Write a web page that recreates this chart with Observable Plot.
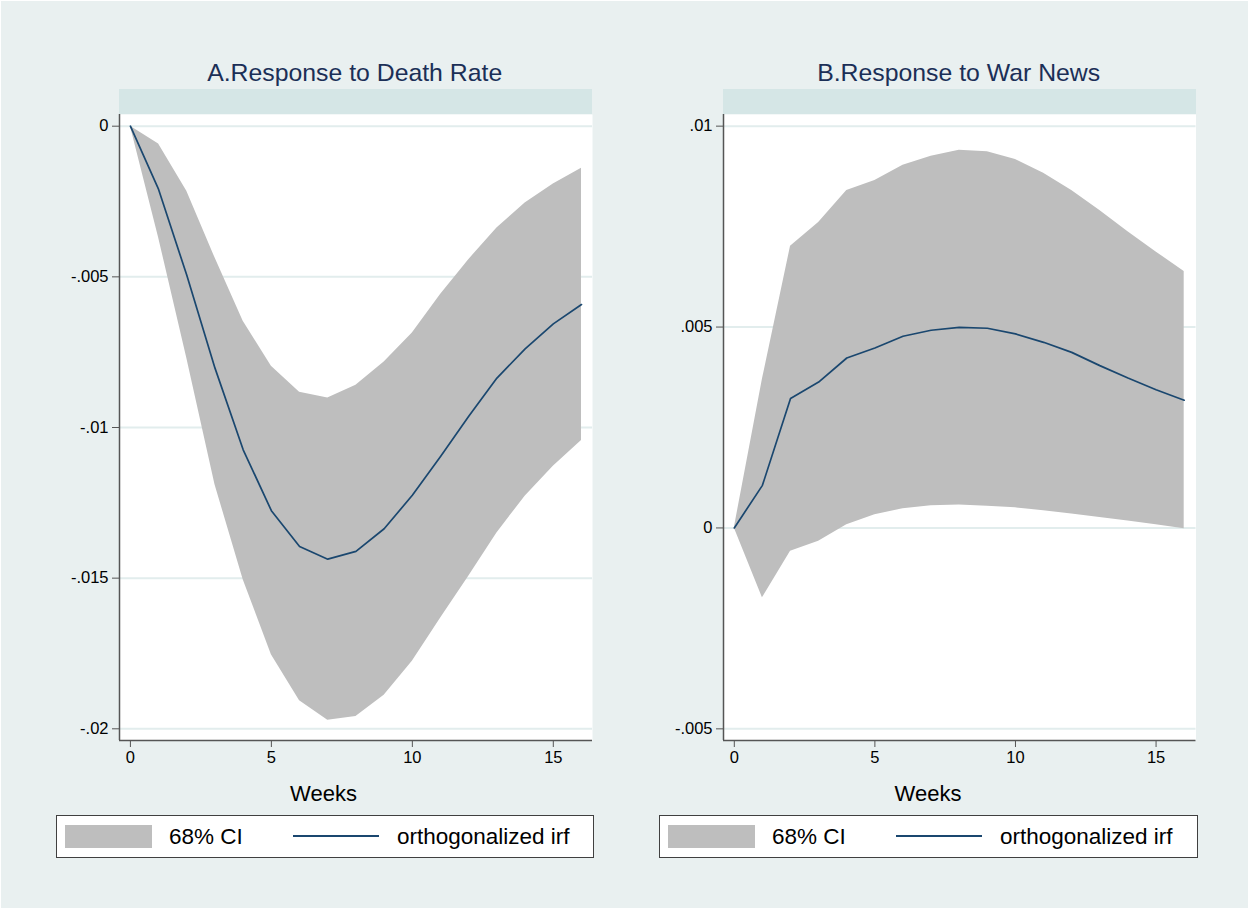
<!DOCTYPE html>
<html>
<head>
<meta charset="utf-8">
<script src="https://cdn.jsdelivr.net/npm/d3@7"></script>
<script src="https://cdn.jsdelivr.net/npm/@observablehq/plot@0.6"></script>
<style>
  html, body { margin: 0; padding: 0; background: #ffffff; }
  #root { position: absolute; left: 1px; top: 1px; width: 1247px; height: 907px; background: #e9f0f0; overflow: hidden;
          font-family: "Liberation Sans", Arial, Helvetica, sans-serif; }
  .abs { position: absolute; }
  .title { font-size: 24.8px; line-height: 24px; color: #1b2f57; text-align: center; white-space: nowrap; }
  .band { background: #d5e6e6; }
  .xlab { font-size: 22px; line-height: 22px; color: #000; text-align: center; white-space: nowrap; }
  .legend { background: #fff; border: 1.5px solid #404040; box-sizing: border-box; }
  .legtxt { font-size: 22.5px; line-height: 40px; color: #000; white-space: nowrap; top: 1px; }
</style>
</head>
<body>
<div id="root"></div>
<script>
// ---------------- data ----------------
const weeks = [0, 1, 2, 3, 4, 5, 6, 7, 8, 9, 10, 11, 12, 13, 14, 15, 16];

// Panel A: Response to Death Rate
const irfA   = [0, -0.0021, -0.00495, -0.00803, -0.01074, -0.01276, -0.01395, -0.01437, -0.01411, -0.01336, -0.01225, -0.01096, -0.00963, -0.00836, -0.00739, -0.00656, -0.00592];
const upperA = [0, -0.00059, -0.00216, -0.00437, -0.00647, -0.00797, -0.00883, -0.00902, -0.0086, -0.00783, -0.00686, -0.00559, -0.00443, -0.00338, -0.00255, -0.00192, -0.0014];
const lowerA = [0, -0.0037, -0.0077, -0.0119, -0.01505, -0.01754, -0.01907, -0.01972, -0.01959, -0.01889, -0.01776, -0.01633, -0.01494, -0.0135, -0.01228, -0.01129, -0.01043];

// Panel B: Response to War News
const irfB   = [0, 0.00106, 0.00322, 0.00363, 0.00423, 0.00448, 0.00477, 0.00492, 0.00499, 0.00497, 0.00483, 0.00462, 0.00437, 0.00404, 0.00373, 0.00344, 0.00318];
const upperB = [0, 0.0037, 0.00701, 0.0076, 0.0084, 0.00865, 0.00903, 0.00925, 0.0094, 0.00936, 0.00917, 0.00883, 0.0084, 0.0079, 0.00737, 0.00687, 0.00638];
const lowerB = [0, -0.00174, -0.00058, -0.00033, 0.00008, 0.00033, 0.00048, 0.00055, 0.00057, 0.00054, 0.0005, 0.00043, 0.00035, 0.00026, 0.00017, 0.00008, -0.00002];

const xTicks  = [0, 5, 10, 15];
const yTicksA = [0, -0.005, -0.01, -0.015, -0.02];
const yTicksB = [-0.005, 0, 0.005, 0.01];

const titleA = "A.Response to Death Rate";
const titleB = "B.Response to War News";
const xLabel = "Weeks";
const legendCI = "68% CI";
const legendIRF = "orthogonalized irf";

// ---------------- helpers ----------------
const stataFmt = d => d === 0 ? "0" : String(+d.toFixed(4)).replace(/^(-?)0\./, "$1.");
const root = document.getElementById("root");
function el(cls, style, text) {
  const d = document.createElement("div");
  d.className = "abs " + cls;
  Object.assign(d.style, style);
  if (text != null) d.textContent = text;
  root.appendChild(d);
  return d;
}

const BAND_FILL = "#bebebe";
const LINE_COL = "#1a476f";

function panel(cfg) {
  const rows = weeks.map((w, i) => ({week: w, irf: cfg.irf[i], lo: cfg.lower[i], hi: cfg.upper[i]}));
  const xDom = cfg.xDomain, yDom = cfg.yDomain;
  const chart = Plot.plot({
    width: 600,
    height: 676,
    marginLeft: 118,
    marginRight: cfg.marginRight,
    marginTop: 10,
    marginBottom: 40,
    style: {fontFamily: '"Liberation Sans", Arial, Helvetica, sans-serif', fontSize: "16.5px", color: "#000", background: "transparent", overflow: "visible"},
    x: {domain: xDom, ticks: xTicks},
    y: {domain: yDom, ticks: cfg.yTicks},
    marks: [
      Plot.frame({fill: "#ffffff", stroke: null}),
      Plot.gridY(cfg.yTicks, {stroke: "#e2eded", strokeOpacity: 1, strokeWidth: 2}),
      Plot.areaY(rows, {x: "week", y1: "lo", y2: "hi", fill: BAND_FILL, fillOpacity: 1}),
      Plot.lineY(rows, {x: "week", y: "irf", stroke: LINE_COL, strokeWidth: 1.7}),
      Plot.ruleX([xDom[0]], {stroke: "#555", strokeWidth: 1.5}),
      Plot.ruleY([yDom[0]], {stroke: "#555", strokeWidth: 1.5}),
      Plot.axisY(cfg.yTicks, {tickFormat: stataFmt, tickSize: 7, tickPadding: 4, stroke: "#555", fill: "#000", fontSize: 16.5, label: null}),
      Plot.axisX(xTicks, {tickFormat: d => String(d), tickSize: 7, tickPadding: 4, stroke: "#555", fill: "#000", fontSize: 16.5, label: null})
    ]
  });
  const wrap = el("", {left: cfg.svgLeft + "px", top: "103px"});
  wrap.appendChild(chart);

  // title and strip
  el("title", {left: (cfg.titleCenter - 300) + "px", top: "60px", width: "600px"}, cfg.title);
  el("band", {left: (cfg.svgLeft + 118) + "px", top: "87.7px", width: cfg.plotWidth + "px", height: "25.6px"});
  // x label
  el("xlab", {left: (cfg.xlabCenter - 100) + "px", top: "781.5px", width: "200px"}, xLabel);

  // legend
  const L = cfg.legLeft;
  el("legend", {left: L + "px", top: "814px", width: cfg.legWidth + "px", height: "43px"});
  el("", {left: (L + 9) + "px", top: "824px", width: "87px", height: "23px", background: BAND_FILL});
  el("legtxt", {left: (L + 113) + "px", top: "815.5px"}, legendCI);
  el("", {left: (L + 237) + "px", top: "834.3px", width: "86px", height: "2px", background: LINE_COL});
  el("legtxt", {left: (L + 341) + "px", top: "815.5px"}, legendIRF);
}

panel({
  title: titleA, irf: irfA, upper: upperA, lower: lowerA,
  xDomain: [-0.387, 16.39], yDomain: [-0.020388, 0.000388], yTicks: yTicksA,
  svgLeft: 0, marginRight: 9, plotWidth: 473, titleCenter: 353.7, xlabCenter: 322.5,
  legLeft: 55, legWidth: 538
});
panel({
  title: titleB, irf: irfB, upper: upperB, lower: lowerB,
  xDomain: [-0.384, 16.42], yDomain: [-0.00529, 0.01029], yTicks: yTicksB,
  svgLeft: 604, marginRight: 9.5, plotWidth: 472.5, titleCenter: 957.7, xlabCenter: 927,
  legLeft: 658, legWidth: 539
});
</script>
</body>
</html>
